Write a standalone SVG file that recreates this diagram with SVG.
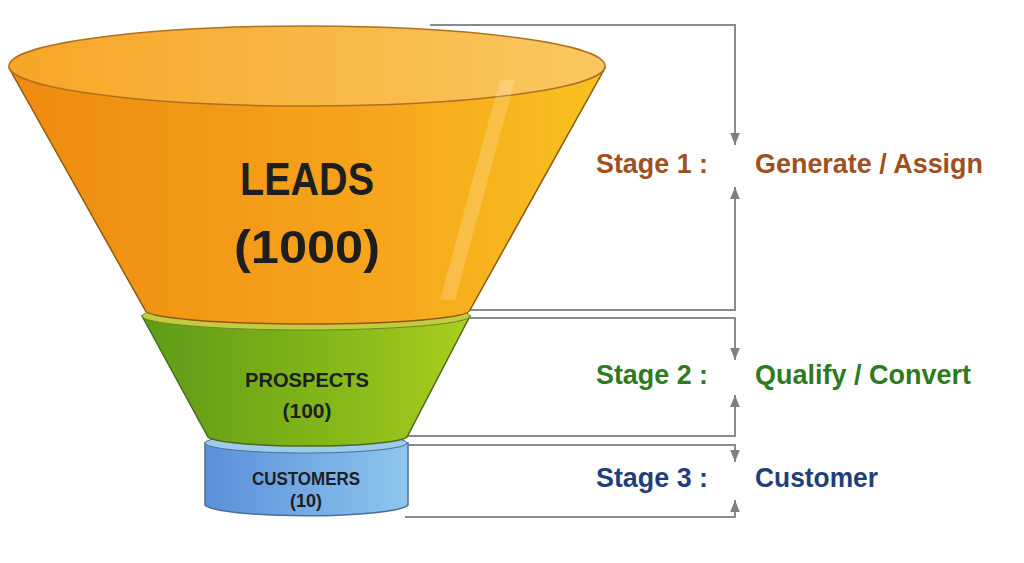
<svg xmlns="http://www.w3.org/2000/svg" width="1024" height="563" viewBox="0 0 1024 563">
<defs>
<linearGradient id="gO" x1="0" y1="0" x2="1" y2="0"><stop offset="0" stop-color="#EE8A10"/><stop offset="0.6" stop-color="#F6A41C"/><stop offset="1" stop-color="#F8C21E"/></linearGradient>
<linearGradient id="gOt" x1="0" y1="0" x2="1" y2="0"><stop offset="0" stop-color="#F7A626"/><stop offset="1" stop-color="#FAC760"/></linearGradient>
<linearGradient id="gG" x1="0" y1="0" x2="1" y2="0"><stop offset="0" stop-color="#5E9A18"/><stop offset="0.6" stop-color="#86B818"/><stop offset="1" stop-color="#A8CF1E"/></linearGradient>
<linearGradient id="gB" x1="0" y1="0" x2="1" y2="0"><stop offset="0" stop-color="#5A8FDA"/><stop offset="1" stop-color="#8EC6EE"/></linearGradient>
<marker id="ar" viewBox="0 0 10 10" refX="10" refY="5" markerWidth="6" markerHeight="6" orient="auto"><path d="M0,1 L10,5 L0,9 z" fill="#808080"/></marker>
</defs>
<style>
.ln{fill:none;stroke:#8a8a8a;stroke-width:2}
.lbl{font-family:"Liberation Sans",Arial,sans-serif;font-weight:bold;fill:#1e1e1e;text-anchor:middle}
.st{font-family:"Liberation Sans",Arial,sans-serif;font-size:27px;font-weight:bold}
</style>
<rect width="1024" height="563" fill="#fff"/>
<g id="connectors">
<path class="ln" d="M430,25 H735 V145" marker-end="url(#ar)"/>
<path class="ln" d="M470,310 H735 V187" marker-end="url(#ar)"/>
<path class="ln" d="M470,318 H735 V360" marker-end="url(#ar)"/>
<path class="ln" d="M405,436 H735 V395" marker-end="url(#ar)"/>
<path class="ln" d="M405,445 H735 V462" marker-end="url(#ar)"/>
<path class="ln" d="M405,517 H735 V500" marker-end="url(#ar)"/>
</g>
<g id="customers">
<path d="M205,443 V505 A102,12 0 0 0 408,505 V443 Z" fill="url(#gB)" stroke="#4a6f9a" stroke-width="1.5"/>
<ellipse cx="306" cy="443" rx="101" ry="10" fill="#9FCBEA" stroke="#4a6f9a" stroke-width="1"/>
<text class="lbl" x="306" y="485" font-size="18" textLength="108" lengthAdjust="spacingAndGlyphs">CUSTOMERS</text>
<text class="lbl" x="306" y="507" font-size="18">(10)</text>
</g>
<g id="prospects">
<path d="M142,316 L208,437 A100,10 0 0 0 407,437 L470,316 Z" fill="url(#gG)" stroke="#4a6a20" stroke-width="1.5"/>
<ellipse cx="306" cy="316" rx="164" ry="14" fill="#C3CB40" stroke="#6a8a20" stroke-width="1"/>
<text class="lbl" x="307" y="387" font-size="21" textLength="124" lengthAdjust="spacingAndGlyphs">PROSPECTS</text>
<text class="lbl" x="307" y="418" font-size="21">(100)</text>
</g>
<g id="leads">
<path d="M9,68 L145,310 A162,14 0 0 0 470,310 L605,68 Z" fill="url(#gO)" stroke="#8a5a10" stroke-width="1.5"/>
<ellipse cx="307" cy="66" rx="298" ry="40" fill="url(#gOt)" stroke="#b07020" stroke-width="1.5"/>
<path d="M440,300 L500,80 L515,80 L455,300 Z" fill="#fff" opacity="0.18"/>
<text class="lbl" x="307" y="195" font-size="46" textLength="134" lengthAdjust="spacingAndGlyphs">LEADS</text>
<text class="lbl" x="307" y="263" font-size="46" textLength="146" lengthAdjust="spacingAndGlyphs">(1000)</text>
</g>
<g id="labels">
<text class="st" x="596" y="173" fill="#A0501E" textLength="112" lengthAdjust="spacingAndGlyphs">Stage 1 :</text>
<text class="st" x="755" y="173" fill="#A0501E" textLength="228" lengthAdjust="spacingAndGlyphs">Generate / Assign</text>
<text class="st" x="596" y="384" fill="#2E7A1E" textLength="112" lengthAdjust="spacingAndGlyphs">Stage 2 :</text>
<text class="st" x="755" y="384" fill="#2E7A1E" textLength="216" lengthAdjust="spacingAndGlyphs">Qualify / Convert</text>
<text class="st" x="596" y="487" fill="#1F3F7A" textLength="112" lengthAdjust="spacingAndGlyphs">Stage 3 :</text>
<text class="st" x="755" y="487" fill="#1F3F7A" textLength="123" lengthAdjust="spacingAndGlyphs">Customer</text>
</g>
</svg>
